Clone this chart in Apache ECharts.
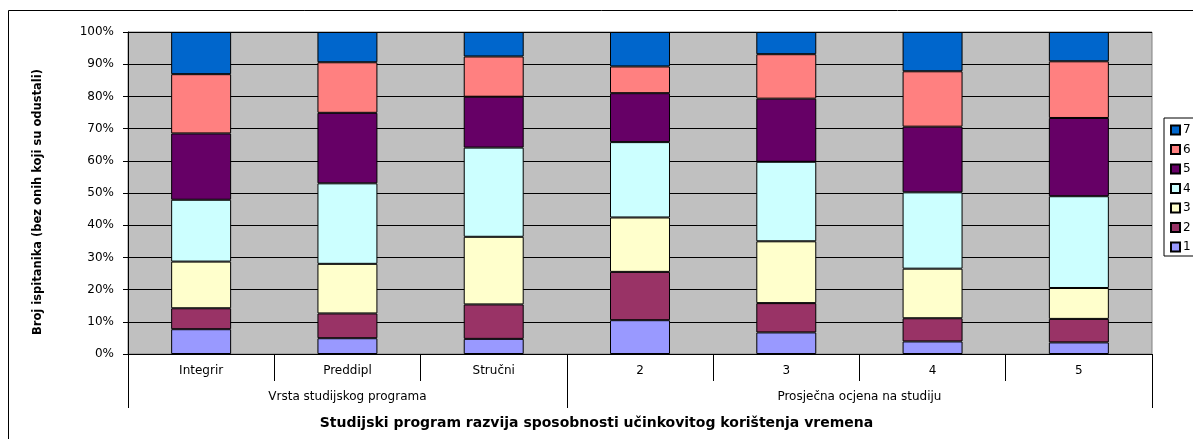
<!DOCTYPE html>
<html>
<head>
<meta charset="utf-8">
<title>Studijski program</title>
<script src="https://cdn.jsdelivr.net/npm/echarts@6/dist/echarts.min.js"></script>
<style>
  html, body { margin: 0; padding: 0; background: #fff; }
  #chart { width: 1193px; height: 439px; }
</style>
</head>
<body>
<div id="chart"></div>
<script>
// categories and their groups (second axis row)
var categories = ['Integrir', 'Preddipl', 'Stručni', '2', '3', '4', '5'];
var groups = ['Vrsta studijskog programa', 'Prosječna ocjena na studiju'];
var groupSizes = [3, 4];

// share of answers per grade (percent of each column)
var seriesNames = ['1', '2', '3', '4', '5', '6', '7'];
var s1 = [7.7, 4.9, 4.7, 10.5, 6.7, 3.9, 3.6];
var s2 = [6.5, 7.7, 10.7, 15.0, 9.1, 7.2, 7.3];
var s3 = [14.5, 15.4, 21.0, 16.9, 19.2, 15.4, 9.6];
var s4 = [19.2, 25.0, 27.7, 23.4, 24.7, 23.7, 28.5];
var s5 = [20.6, 21.9, 15.8, 15.2, 19.6, 20.4, 24.3];
var s6 = [18.4, 15.7, 12.5, 8.3, 13.8, 17.2, 17.6];
var s7 = [13.1, 9.4, 7.6, 10.7, 6.9, 12.2, 9.1];
var values = [s1, s2, s3, s4, s5, s6, s7];
var colors = ['#9999FF', '#993366', '#FFFFCC', '#CCFFFF', '#660066', '#FF8080', '#0066CC'];

var yTicks = { min: 0, max: 100, step: 10 };

var font = "'DejaVu Sans', Arial, sans-serif";

// group boundaries and label centres, in category units
var groupStarts = [];
var groupCenters = [];
var acc = 0;
groupSizes.forEach(function (n) {
  groupStarts.push(acc);
  groupCenters.push(acc + n / 2);
  acc += n;
});

var chart = echarts.init(document.getElementById('chart'), null, { renderer: 'canvas' });

var series = values.map(function (arr, i) {
  return {
    name: seriesNames[i],
    type: 'bar',
    stack: 'total',
    barWidth: '41%',
    data: arr,
    itemStyle: { color: colors[i], borderColor: '#000', borderWidth: 1 },
    emphasis: { disabled: true }
  };
});

chart.setOption({
  animation: false,
  textStyle: { fontFamily: font, color: '#000' },
  graphic: [{
    type: 'rect',
    z: -10,
    shape: { x: 8.5, y: 10.5, width: 1200, height: 440 },
    style: { fill: 'none', stroke: '#000', lineWidth: 1 }
  }],
  title: {
    text: 'Studijski program razvija sposobnosti učinkovitog korištenja vremena',
    left: 'center',
    top: 411,
    textStyle: { fontFamily: font, fontSize: 14, fontWeight: 'bold', color: '#000' }
  },
  legend: {
    orient: 'vertical',
    left: 1164,
    top: 118,
    data: seriesNames.slice().reverse(),
    icon: 'rect',
    itemWidth: 9,
    itemHeight: 9,
    itemGap: 7.5,
    padding: [6, 20, 3, 6],
    borderColor: '#000',
    borderWidth: 1,
    backgroundColor: '#fff',
    textStyle: { fontFamily: font, fontSize: 12, color: '#000', padding: [0, 0, 0, -2] }
  },
  grid: {
    left: 128, right: 41, top: 32, bottom: 85,
    show: true,
    backgroundColor: '#C0C0C0',
    borderColor: '#808080',
    borderWidth: 1
  },
  xAxis: [{
    type: 'category',
    data: categories,
    position: 'bottom',
    axisLine: { show: true, lineStyle: { color: '#000', width: 1 } },
    axisTick: { show: true, interval: 0, length: 27, lineStyle: { color: '#000', width: 1 } },
    axisLabel: { margin: 11, fontSize: 12, color: '#000', fontFamily: font, interval: 0 },
    splitLine: { show: false }
  }, {
    type: 'category',
    data: categories,
    position: 'bottom',
    axisLine: { show: false },
    axisTick: {
      show: true,
      length: 54,
      lineStyle: { color: '#000', width: 1 },
      interval: function (index) { return groupStarts.indexOf(index) !== -1; }
    },
    axisLabel: { show: false },
    splitLine: { show: false }
  }, {
    type: 'value',
    position: 'bottom',
    min: 0,
    max: categories.length,
    interval: 0.5,
    axisLine: { show: false },
    axisTick: { show: false },
    splitLine: { show: false },
    axisLabel: {
      margin: 37,
      fontSize: 12,
      color: '#000',
      fontFamily: font,
      showMinLabel: true,
      showMaxLabel: true,
      formatter: function (v) {
        var k = groupCenters.indexOf(v);
        return k === -1 ? '' : groups[k];
      }
    }
  }],
  yAxis: {
    type: 'value',
    min: yTicks.min,
    max: yTicks.max,
    interval: yTicks.step,
    name: 'Broj ispitanika (bez onih koji su odustali)',
    nameLocation: 'middle',
    nameGap: 84,
    nameTextStyle: { fontFamily: font, fontSize: 11.5, fontWeight: 'bold', color: '#000', padding: [0, 18, 0, 0] },
    axisLine: { show: true, lineStyle: { color: '#000' } },
    axisTick: { show: true, length: 5, lineStyle: { color: '#000' } },
    axisLabel: { margin: 14, fontSize: 12, color: '#000', fontFamily: font, formatter: '{value}%' },
    splitLine: { show: true, lineStyle: { color: '#000', width: 1 } }
  },
  series: series
});
</script>
</body>
</html>
